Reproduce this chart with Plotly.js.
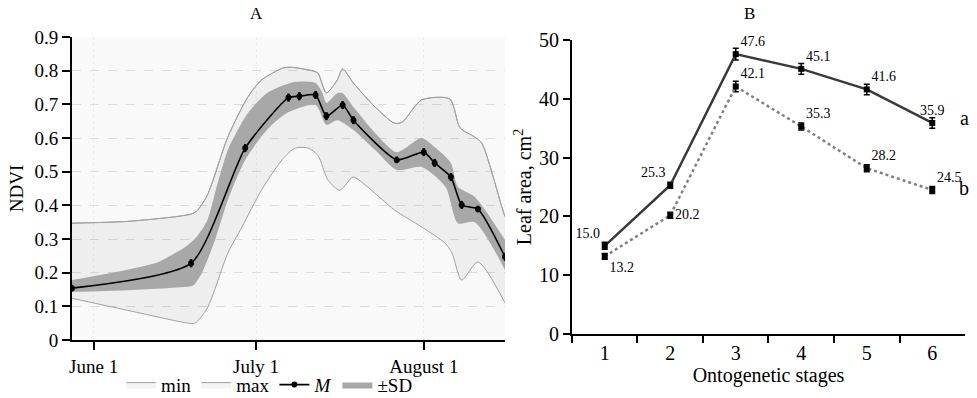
<!DOCTYPE html>
<html><head><meta charset="utf-8">
<script src="https://cdn.plot.ly/plotly-3.0.1.min.js"></script>
<style>html,body{margin:0;padding:0;background:#fff}#chart{width:977px;height:398px}</style>
</head><body><div id="chart"></div>
<script>
// ---------- Panel A : NDVI ----------
const mDates = ['2019-05-28','2019-06-19','2019-06-29','2019-07-07','2019-07-09','2019-07-12','2019-07-14','2019-07-17','2019-07-19','2019-07-27','2019-08-01','2019-08-03','2019-08-06','2019-08-08','2019-08-11','2019-08-16'];
const mVals  = [0.154,0.228,0.570,0.720,0.724,0.728,0.665,0.698,0.653,0.535,0.558,0.526,0.484,0.401,0.389,0.247];
const mErr   = [0.010,0.012,0.012,0.012,0.012,0.012,0.012,0.012,0.012,0.010,0.012,0.012,0.012,0.012,0.010,0.012];

const sdHiDates = ['2019-05-28','2019-06-07','2019-06-13','2019-06-16','2019-06-18','2019-06-20','2019-06-22','2019-06-23 10:00','2019-06-25 19:00','2019-06-29 12:00','2019-07-03','2019-07-08','2019-07-12','2019-07-13 07:00','2019-07-14','2019-07-16','2019-07-17','2019-07-19','2019-07-23','2019-07-27','2019-07-31 14:00','2019-08-03','2019-08-06','2019-08-07 07:00','2019-08-10 10:00','2019-08-16'];
const sdHiVals  = [0.178,0.208,0.232,0.258,0.277,0.306,0.356,0.436,0.564,0.674,0.733,0.766,0.763,0.733,0.704,0.733,0.733,0.692,0.615,0.558,0.600,0.573,0.526,0.455,0.425,0.297];

const sdLoDates = ['2019-05-28','2019-06-07','2019-06-19','2019-06-19 12:00','2019-06-21','2019-06-23 10:00','2019-06-25 19:00','2019-06-29','2019-07-03','2019-07-07','2019-07-12','2019-07-14','2019-07-16','2019-07-19','2019-07-23','2019-07-27','2019-07-31 14:00','2019-08-05','2019-08-07 07:00','2019-08-10 10:00','2019-08-16'];
const sdLoVals  = [0.143,0.148,0.160,0.163,0.199,0.297,0.416,0.535,0.624,0.677,0.698,0.639,0.653,0.624,0.564,0.505,0.514,0.455,0.347,0.350,0.208];

const maxDates = ['2019-05-28','2019-06-07','2019-06-16','2019-06-19','2019-06-20','2019-06-22','2019-06-25 19:00','2019-06-29 12:00','2019-07-02','2019-07-06','2019-07-07 14:00','2019-07-11 07:00','2019-07-12 10:00','2019-07-14','2019-07-16','2019-07-17','2019-07-19','2019-07-23','2019-07-26 14:00','2019-07-28','2019-07-31 14:00','2019-08-05 19:00','2019-08-07 17:00','2019-08-10 10:00','2019-08-11 17:00','2019-08-15 10:00','2019-08-16'];
const maxVals  = [0.347,0.352,0.366,0.374,0.382,0.430,0.603,0.722,0.772,0.808,0.810,0.800,0.793,0.734,0.772,0.805,0.763,0.692,0.644,0.647,0.713,0.716,0.630,0.603,0.585,0.395,0.366];

const minDates = ['2019-05-28','2019-06-07','2019-06-18 12:00','2019-06-19 17:00','2019-06-22','2019-06-25 19:00','2019-06-28 10:00','2019-07-02','2019-07-05 19:00','2019-07-08 05:00','2019-07-10 14:00','2019-07-12 10:00','2019-07-14 07:00','2019-07-16 12:00','2019-07-18 22:00','2019-07-21 14:00','2019-07-26 14:00','2019-07-31 14:00','2019-08-04 22:00','2019-08-06 05:00','2019-08-08','2019-08-11','2019-08-16'];
const minVals  = [0.124,0.089,0.050,0.050,0.095,0.258,0.336,0.445,0.535,0.570,0.570,0.549,0.475,0.445,0.484,0.455,0.386,0.336,0.288,0.258,0.178,0.232,0.110];

const dateTickVals = ['2019-06-01','2019-07-01','2019-08-01'];
const dateTickText = ['June 1','July 1','August 1'];
const ndviTicks = [0,0.1,0.2,0.3,0.4,0.5,0.6,0.7,0.8,0.9];

// ---------- Panel B : Leaf area ----------
const stages = ['1','2','3','4','5','6'];
const seriesA = [15.0,25.3,47.6,45.1,41.6,35.9];
const errA    = [0.6,0.5,1.0,0.9,0.9,0.9];
const seriesB = [13.2,20.2,42.1,35.3,28.2,24.5];
const errB    = [0.5,0.5,0.9,0.6,0.6,0.6];
const posA = ['top left','top left','top right','top right','top right','top center'];
const posB = ['bottom right','middle right','top right','top right','top right','top right'];
const seriesLetters = ['a','b'];

const serif = 'Liberation Serif, Times New Roman, serif';
const envLine = {color:'#a0a0a0', width:1, shape:'spline', smoothing:0.7};
const envFill = 'rgba(0,0,0,0.045)';
const lastIdx = stages.length - 1;

const traces = [
  {x:maxDates, y:maxVals, type:'scatter', mode:'lines', line:envLine, showlegend:false, hoverinfo:'skip', xaxis:'x', yaxis:'y'},
  {x:minDates, y:minVals, type:'scatter', mode:'lines', name:'min', line:envLine, fill:'tonexty', fillcolor:envFill, legendrank:1, xaxis:'x', yaxis:'y'},
  {x:maxDates, y:maxVals, type:'scatter', mode:'lines', line:{width:0, shape:'spline', smoothing:0.7}, showlegend:false, hoverinfo:'skip', xaxis:'x', yaxis:'y'},
  {x:maxDates, y:maxVals, type:'scatter', mode:'lines', name:'max', line:envLine, fill:'tonexty', fillcolor:envFill, legendrank:2, xaxis:'x', yaxis:'y'},
  {x:sdLoDates, y:sdLoVals, type:'scatter', mode:'lines', line:{width:0, shape:'spline', smoothing:0.7}, showlegend:false, hoverinfo:'skip', xaxis:'x', yaxis:'y'},
  {x:sdHiDates, y:sdHiVals, type:'scatter', mode:'lines', name:'±SD', line:{width:0, color:'#a8a8a8', shape:'spline', smoothing:0.7}, fill:'tonexty', fillcolor:'#a8a8a8', legendrank:4, xaxis:'x', yaxis:'y'},
  {x:mDates, y:mVals, type:'scatter', mode:'lines+markers', name:'<i>M</i>', line:{color:'#000', width:1.6, shape:'spline', smoothing:0.6},
   marker:{color:'#000', size:6}, error_y:{type:'data', array:mErr, visible:true, color:'#000', thickness:2.5, width:0}, legendrank:3, xaxis:'x', yaxis:'y'},
  {x:stages, y:seriesA, type:'scatter', mode:'lines+markers+text', line:{color:'#3a3a3a', width:2.5}, marker:{symbol:'square', size:6, color:'#000'},
   error_y:{type:'data', array:errA, visible:true, color:'#000', thickness:1.5, width:3},
   text:seriesA.map(v=>v.toFixed(1)), textposition:posA, textfont:{family:serif, size:14, color:'#000'}, showlegend:false, xaxis:'x2', yaxis:'y2', cliponaxis:false},
  {x:stages, y:seriesB, type:'scatter', mode:'lines+markers+text', line:{color:'#808080', width:2.5, dash:'dot'}, marker:{symbol:'square', size:6, color:'#000'},
   error_y:{type:'data', array:errB, visible:true, color:'#000', thickness:1.5, width:3},
   text:seriesB.map(v=>v.toFixed(1)), textposition:posB, textfont:{family:serif, size:14, color:'#000'}, showlegend:false, xaxis:'x2', yaxis:'y2', cliponaxis:false}
];

const layout = {
  width:977, height:398,
  margin:{l:72, r:12, t:37, b:58, autoexpand:false},
  paper_bgcolor:'#fff', plot_bgcolor:'#fff',
  font:{family:serif, color:'#000', size:19},
  showlegend:true,
  legend:{orientation:'h', traceorder:'normal', x:0.055, xanchor:'left', y:-0.085, yanchor:'top', font:{family:serif, size:19}, itemwidth:30, tracegroupgap:0, bgcolor:'rgba(0,0,0,0)'},
  xaxis:{domain:[0,0.4849], anchor:'y', type:'date', range:['2019-05-28','2019-08-16'], automargin:false,
    tickvals:dateTickVals, ticktext:dateTickText, ticks:'outside', ticklen:8, tickwidth:2, tickcolor:'#000',
    showline:true, linewidth:2, linecolor:'#000', showgrid:true, gridcolor:'#ececec', griddash:'dot', gridwidth:1,
    tickfont:{size:19}, zeroline:false},
  yaxis:{domain:[0,1], anchor:'x', range:[0,0.9], tickvals:ndviTicks, ticks:'outside', ticklen:8, tickwidth:2, tickcolor:'#000', automargin:false,
    showline:true, linewidth:2, linecolor:'#000', showgrid:true, gridcolor:'#dcdcdc', griddash:'dash', gridwidth:1,
    tickfont:{size:19}, zeroline:false, title:{text:'NDVI', font:{size:19}, standoff:6}},
  xaxis2:{domain:[0.5599,1], anchor:'y2', type:'category', range:[-0.5,5.5], tickson:'boundaries', automargin:false,
    ticks:'outside', ticklen:7, tickwidth:2, tickcolor:'#000', showline:true, linewidth:2, linecolor:'#000', showgrid:false,
    tickfont:{size:20}, title:{text:'Ontogenetic stages', font:{size:20}, standoff:4}},
  yaxis2:{domain:[0.0198,0.990], anchor:'x2', range:[0,50], dtick:10, ticks:'outside', ticklen:7, tickwidth:2, tickcolor:'#000', automargin:false,
    showline:true, linewidth:2, linecolor:'#000', showgrid:false, zeroline:false,
    tickfont:{size:20}, title:{text:'Leaf area, cm<sup>2</sup>', font:{size:20}, standoff:2}},
  shapes:[{type:'rect', xref:'x domain', yref:'y domain', x0:0, x1:1, y0:0, y1:1, fillcolor:'#f9f9f9', line:{width:0}, layer:'below'}],
  annotations:[
    {text:'A', xref:'paper', yref:'paper', x:0.207, y:1.079, xanchor:'center', yanchor:'middle', showarrow:false, font:{size:17}},
    {text:'B', xref:'paper', yref:'paper', x:0.759, y:1.079, xanchor:'center', yanchor:'middle', showarrow:false, font:{size:17}},
    {text:seriesLetters[0], xref:'x2', yref:'y2', x:lastIdx, y:seriesA[lastIdx], xshift:32, yshift:5, xanchor:'center', yanchor:'middle', showarrow:false, font:{size:20}},
    {text:seriesLetters[1], xref:'x2', yref:'y2', x:lastIdx, y:seriesB[lastIdx], xshift:32, yshift:2, xanchor:'center', yanchor:'middle', showarrow:false, font:{size:20}}
  ]
};

Plotly.newPlot('chart', traces, layout, {displayModeBar:false, staticPlot:true});
</script></body></html>
